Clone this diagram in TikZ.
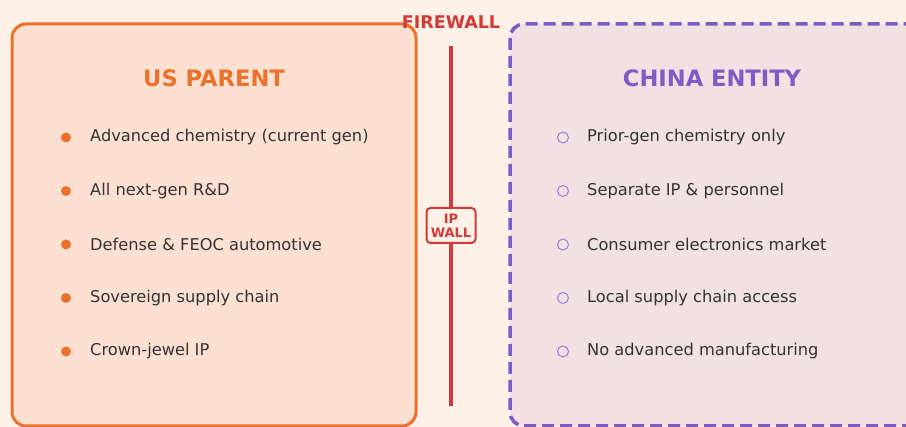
\documentclass[tikz,border=0pt]{standalone}
\usepackage{fontspec}
\setmainfont{DejaVu Sans}
\definecolor{bg}{HTML}{FEF1E8}
\definecolor{usfill}{HTML}{FCE1D2}
\definecolor{usline}{HTML}{EA722C}
\definecolor{cnfill}{HTML}{F1E1E2}
\definecolor{cnline}{HTML}{7E5CC4}
\definecolor{cnbullet}{HTML}{9A7ED6}
\definecolor{fwred}{HTML}{D13A38}
\definecolor{txt}{HTML}{333333}
\begin{document}
\begin{tikzpicture}[x=1pt,y=-1pt,
  heading/.style={font=\fontsize{22.6}{26}\selectfont\bfseries},
  item/.style={anchor=west,text=txt,font=\fontsize{16.25}{19}\selectfont,inner sep=0pt},
  usdot/.style={circle,fill=usline,minimum size=10pt,inner sep=0pt},
  cndot/.style={circle,draw=cnbullet,line width=1pt,minimum size=11pt,inner sep=0pt}]
\useasboundingbox (0,0) rectangle (906,427);
\fill[bg] (0,0) rectangle (906,427);
\begin{scope}
\clip (0,0) rectangle (906,427);
\draw[usline,fill=usfill,line width=3pt,rounded corners=14pt] (12,24) rectangle (416,426);
\draw[cnline,fill=cnfill,line width=3.5pt,dash pattern=on 12pt off 6pt,rounded corners=14pt] (510,24) rectangle (930,426);
\end{scope}
% firewall
\node[text=fwred,font=\fontsize{17.5}{20}\selectfont\bfseries] (fw) at (451,22) {FIREWALL};
\coordinate (ftop) at (451,46);
\coordinate (fbot) at (451,406);
\draw[fwred,line width=4pt] (ftop) -- (fbot);
\node[draw=fwred,fill=bg,line width=2pt,rounded corners=4pt,minimum width=49pt,minimum height=35pt,inner sep=0pt,align=center,text=fwred,font=\fontsize{13}{14}\selectfont\bfseries] (ipwall) at (451,225.5) {IP\\WALL};
% headings
\node[heading,text=usline] (ush) at (214,78) {US PARENT};
\node[heading,text=cnline] (cnh) at (712,78) {CHINA ENTITY};
% US items
\foreach \y/\t [count=\i] in {137.5/Advanced chemistry (current gen),191/All next-gen R\&D,244.5/Defense \& FEOC automotive,298/Sovereign supply chain,351.5/Crown-jewel IP}{
  \node[usdot] (usb\i) at (66,\y) {};
  \node[item] (ust\i) at (90,\y) {\t};
}
% China items
\foreach \y/\t [count=\i] in {137.5/Prior-gen chemistry only,191/Separate IP \& personnel,244.5/Consumer electronics market,298/Local supply chain access,351.5/No advanced manufacturing}{
  \node[cndot] (cnb\i) at (563,\y) {};
  \node[item] (cnt\i) at (587,\y) {\t};
}
\end{tikzpicture}
\end{document}
